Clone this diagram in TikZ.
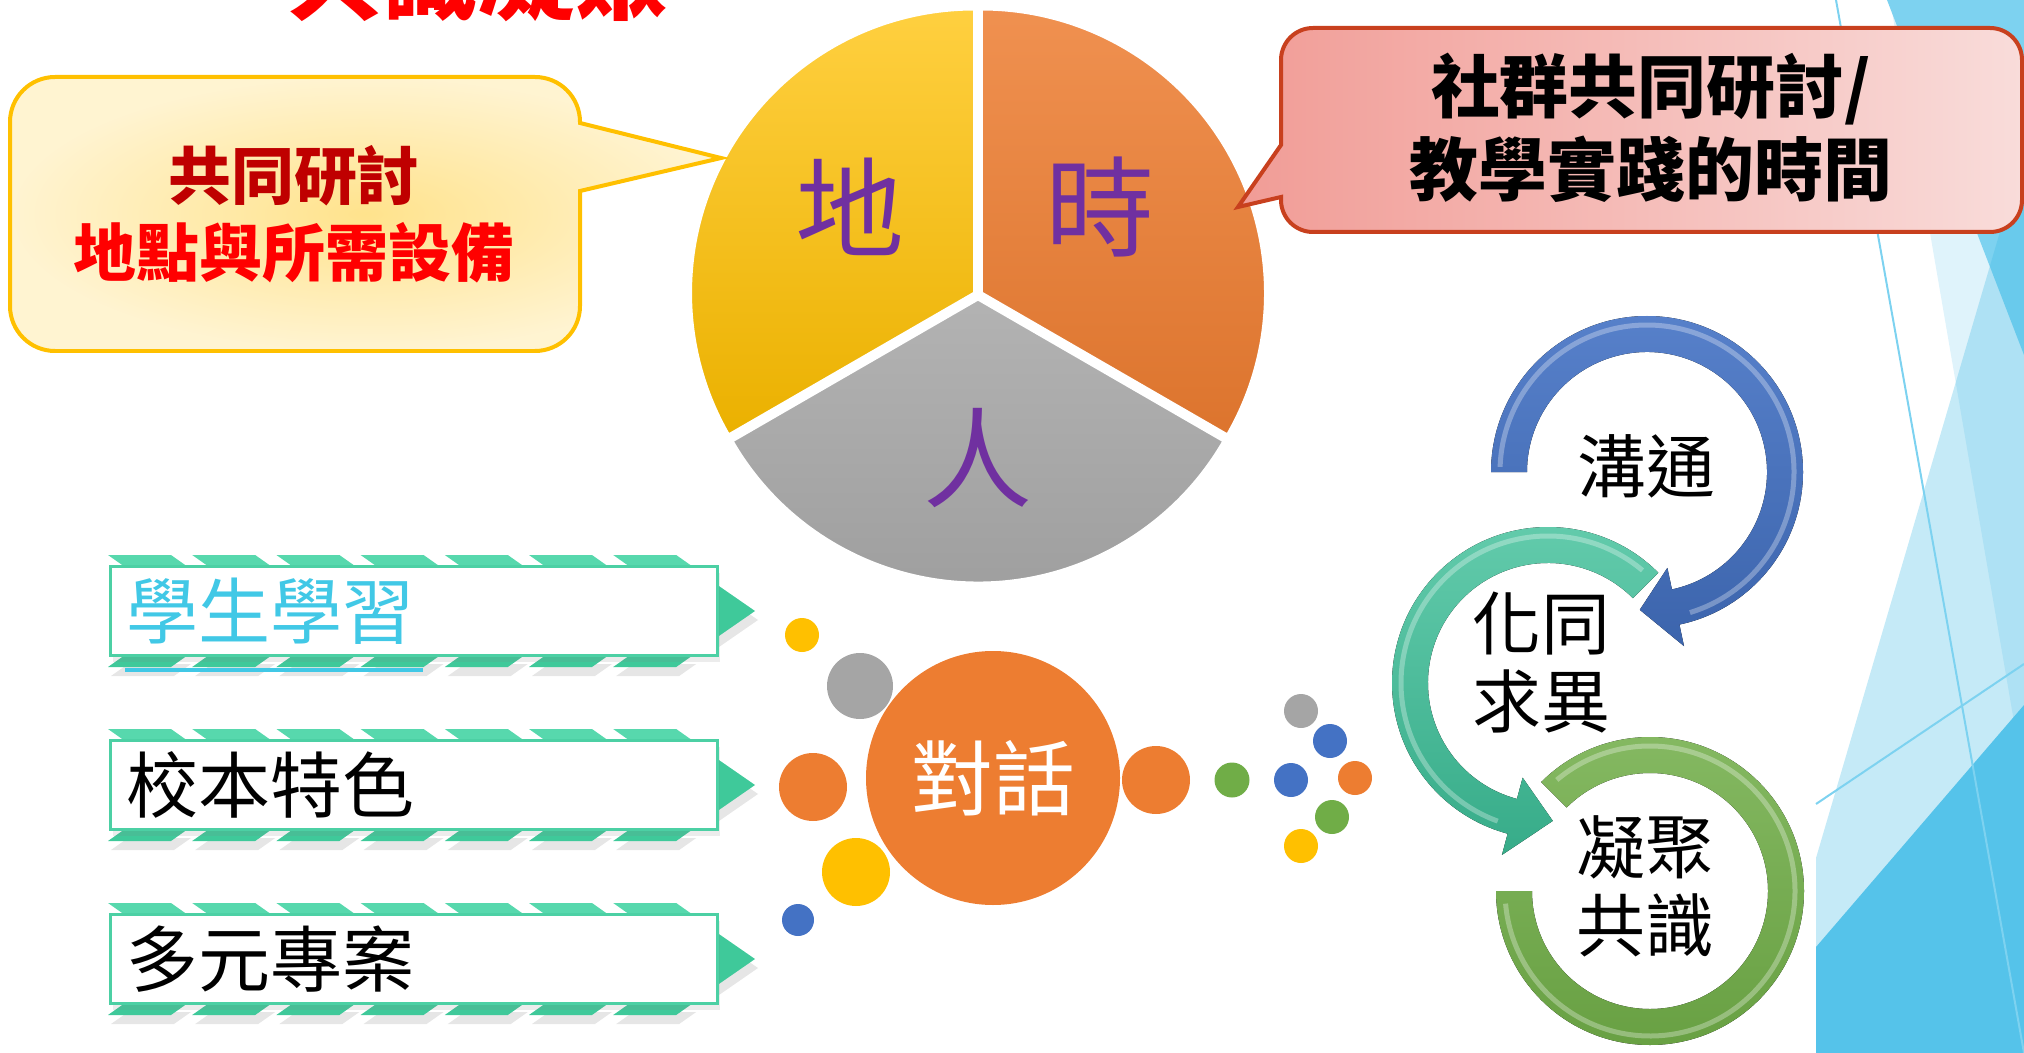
\documentclass[tikz,border=0pt]{standalone}
\usepackage{fontspec}
\setmainfont{Noto Sans CJK TC}
\usetikzlibrary{calc,shadows}

\definecolor{facetA}{HTML}{7DD2F0}
\definecolor{facetB}{HTML}{DFF3FB}
\definecolor{facetC}{RGB}{62,185,228}
\definecolor{facetD}{HTML}{55C3EA}
\definecolor{pieY}{HTML}{FFC000}
\definecolor{pieO}{HTML}{ED7D31}
\definecolor{pieG}{HTML}{A5A5A5}
\definecolor{piePurple}{HTML}{7030A0}
\definecolor{chevTop}{HTML}{57D8AD}
\definecolor{chevBot}{HTML}{3FC99A}
\definecolor{chevLine}{HTML}{4CD0A4}
\definecolor{linkCyan}{HTML}{41C8E6}
\definecolor{dotBlue}{HTML}{4472C4}
\definecolor{dotGreen}{HTML}{70AD47}
\definecolor{calloutRed}{HTML}{C8401E}
\definecolor{ringTeal}{HTML}{3DBF98}

\newcommand\fsz[2]{\fontsize{#1}{#2}\selectfont}

\tikzset{
  facetline/.style={draw=facetA, line width=0.2mm},
  chevtop/.style={fill=chevTop},
  chevbot/.style={fill=chevBot, drop shadow={shadow xshift=0.3mm, shadow yshift=-0.9mm, opacity=0.2}},
  labelbox/.style={draw=chevLine, line width=0.3mm, fill=white, minimum width=60.7mm,
    minimum height=8.9mm, inner sep=0pt, drop shadow={shadow xshift=0.3mm, shadow yshift=-0.6mm, opacity=0.15}},
  boxtext/.style={anchor=west, inner sep=0pt, font=\fsz{20.5pt}{24pt}},
  pielbl/.style={text=piePurple, font=\fsz{31pt}{34pt}},
  ringlbl/.style={align=center, inner sep=0pt, font=\fsz{19.6pt}{22.2pt}},
  gloss/.style={draw=white, opacity=.3, line width=0.5mm},
}

\begin{document}
\begin{tikzpicture}[x=0.1mm,y=-0.1mm]
  \useasboundingbox (0,0) rectangle (2024,1053);
  \clip (0,0) rectangle (2024,1053);
  % background facets
  \fill[facetB] (1890,0) -- (2024,0) -- (2024,780) -- cycle;
  \fill[facetA] (1887,0) -- (2024,0) -- (2024,355) -- cycle;
  \fill[facetC, opacity=0.3] (2024,150) -- (1816,858) -- (1816,1053) -- (2024,1053) -- cycle;
  \fill[facetD] (1816,947) -- (2024,705) -- (2024,1053) -- (1816,1053) -- cycle;
  \draw[facetline] (1836,0) -- (2024,1053);
  \draw[facetline] (1816,804) -- (2024,664);

  % title, cut by the top edge
  \node[font=\bfseries\fsz{27.3pt}{30pt}, text=red, anchor=base, inner sep=0pt] (title) at (478,13) {共識凝聚};

  % pie
  \coordinate (pc) at (978,295);
  \fill[draw=white, line width=0.3mm, top color=pieY!75!white, middle color=pieY, bottom color=pieY!92!black]
    ($(pc)+(-150:4)$) -- ++(-90:284) arc[start angle=-90,end angle=-210,radius=284] -- cycle;
  \fill[draw=white, line width=0.3mm, top color=pieO!85!white, middle color=pieO, bottom color=pieO!93!black]
    ($(pc)+(-30:4)$) -- ++(30:284) arc[start angle=30,end angle=-90,radius=284] -- cycle;
  \fill[draw=white, line width=0.3mm, top color=pieG!85!white, bottom color=pieG!95!black]
    ($(pc)+(90:4)$) -- ++(-210:284) arc[start angle=-210,end angle=-330,radius=284] -- cycle;
  \node[pielbl] (di) at (850,207) {地};
  \node[pielbl] (shi) at (1100,207) {時};
  \node[pielbl] (ren) at (978,458) {人};

  % callouts
  \draw[draw=pieY, line width=0.4mm, inner color=pieY!45!white, outer color=pieY!18!white]
    (55,77) -- (535,77) arc[start angle=-90,end angle=0,radius=45] -- (580,123) -- (721,158)
    -- (580,191) -- (580,306) arc[start angle=0,end angle=90,radius=45] -- (55,351)
    arc[start angle=90,end angle=180,radius=45] -- (10,122) arc[start angle=180,end angle=270,radius=45] -- cycle;
  \node[align=center, font=\bfseries\fsz{17.9pt}{21.9pt}] (place) at (294,214)
    {\textcolor{red!75!black}{共同研討}\\\textcolor{red}{地點與所需設備}};
  \definecolor{callL}{HTML}{F19C96}
  \definecolor{callR}{HTML}{F9DCDA}
  \draw[draw=calloutRed, line width=0.4mm, left color=callL, right color=callR]
    (1313,28) -- (1990,28) arc[start angle=-90,end angle=0,radius=32] -- (2022,200)
    arc[start angle=0,end angle=90,radius=32] -- (1313,232) arc[start angle=90,end angle=180,radius=32]
    -- (1281,197) -- (1238,207) -- (1281,145) -- (1281,60) arc[start angle=180,end angle=270,radius=32] -- cycle;
  \node[align=center, font=\bfseries\fsz{19.6pt}{23.6pt}] (time) at (1651,128)
    {社群共同研討/\\教學實踐的時間};

  % arrow boxes
  \foreach \yc/\lbl/\col/\nm in {611/學生學習/linkCyan/bx1, 785/校本特色/black/bx2, 959/多元專案/black/bx3}{
    \foreach \k in {0,...,6}{
      \fill[chevtop] ({108+84.2*\k},{\yc-56}) -- ++(63,0) -- ({188+84.2*\k},{\yc-44}) -- ({125+84.2*\k},{\yc-44}) -- cycle;
      \fill[chevbot] ({125+84.2*\k},{\yc+44}) -- ({188+84.2*\k},{\yc+44}) -- ({171+84.2*\k},{\yc+56}) -- ({108+84.2*\k},{\yc+56}) -- cycle;
    }
    \fill[chevbot] (716,{\yc-27}) -- (755,\yc) -- (716,{\yc+27}) -- cycle;
    \node[labelbox] (\nm) at (413.5,\yc) {};
    \node[boxtext, text=\col] (\nm-t) at (126,\yc) {\lbl};
  }
  \draw[linkCyan, line width=0.4mm] (125,670) -- (423,670);

  % dots round the dialogue
  \fill[pieY] (802,635) circle (17);
  \fill[pieG] (860,686) circle (33);
  \fill[pieO] (813,787) circle (34);
  \fill[pieY] (856,872) circle (34);
  \fill[dotBlue] (798,920) circle (16);
  \node[circle, fill=pieO, minimum size=25.4mm, inner sep=0pt, text=white, font=\fsz{23.3pt}{26pt}] (talk) at (993,778) {對話};
  \fill[pieO] (1156,780) circle (34);
  \fill[dotGreen] (1232,780) circle (17.5);
  \fill[dotBlue] (1291,780) circle (17);
  \fill[pieG] (1301,711) circle (17);
  \fill[dotBlue] (1330,741) circle (17);
  \fill[pieO] (1355,778) circle (17);
  \fill[dotGreen] (1332,817) circle (17);
  \fill[pieY] (1301,846) circle (17);

  % cycle of rings
  \coordinate (cb) at (1647,472);
  \coordinate (ct) at (1548,683);
  \coordinate (cg) at (1650,891);
  \fill[top color=dotGreen!85!white, bottom color=dotGreen!92!black]
    ($(cg)+(-135:154)$) arc[start angle=-135,end angle=180,radius=154]
    -- ($(cg)+(180:118)$) arc[start angle=180,end angle=-135,radius=118] -- cycle;
  \draw[gloss] ($(cg)+(-130:145)$) arc[start angle=-130,end angle=175,radius=145];
  \fill[top color=ringTeal!80!white, bottom color=ringTeal!90!black]
    ($(ct)+(-45:156)$) arc[start angle=-45,end angle=-255,radius=156]
    -- ($(ct)+(-255:178)$) -- ($(ct)+(-272:138)$) -- ($(ct)+(-255:98)$)
    -- ($(ct)+(-255:120)$) arc[start angle=-255,end angle=-45,radius=120] -- cycle;
  \draw[gloss] ($(ct)+(-50:147)$) arc[start angle=-50,end angle=-250,radius=147];
  \fill[top color=dotBlue!90!white, bottom color=dotBlue!88!black]
    ($(cb)+(-180:156)$) arc[start angle=-180,end angle=78,radius=156]
    -- ($(cb)+(78:178)$) -- ($(cb)+(93:138)$) -- ($(cb)+(78:98)$)
    -- ($(cb)+(78:120)$) arc[start angle=78,end angle=-180,radius=120] -- cycle;
  \draw[gloss] ($(cb)+(-178:147)$) arc[start angle=-178,end angle=73,radius=147];
  \node[ringlbl] (talkA) at (1646,466) {溝通};
  \node[ringlbl] (talkB) at (1541,663) {化同\\求異};
  \node[ringlbl] (talkC) at (1645,886) {凝聚\\共識};
\end{tikzpicture}
\end{document}
